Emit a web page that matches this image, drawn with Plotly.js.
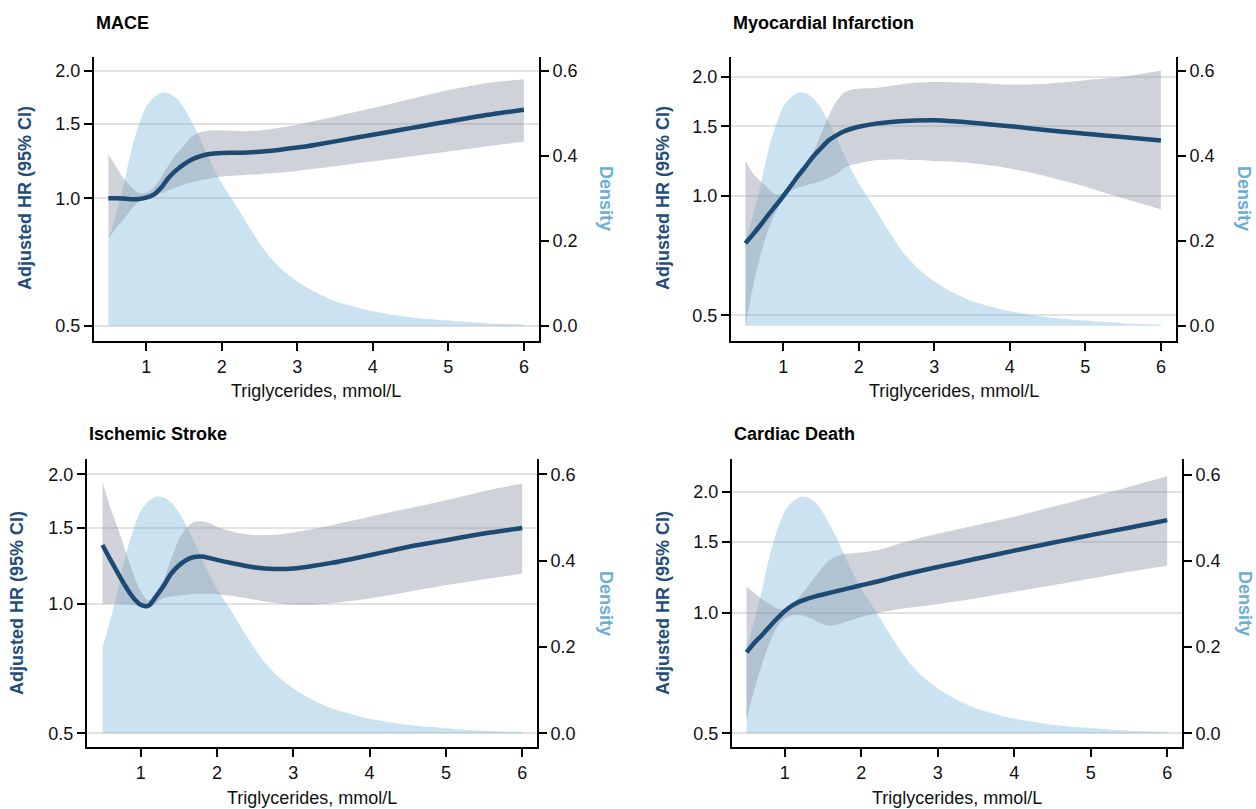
<!DOCTYPE html>
<html>
<head>
<meta charset="utf-8">
<script src="https://cdn.plot.ly/plotly-3.0.1.min.js"></script>
<style>html,body{margin:0;padding:0;background:#fff;}#chart{width:1256px;height:809px;}</style>
</head>
<body>
<div id="chart"></div>
<script>
// ---------------- DATA ----------------
const panelTitles = ["MACE", "Myocardial Infarction", "Ischemic Stroke", "Cardiac Death"];
const xTitle = "Triglycerides, mmol/L";
const hrTitle = "Adjusted HR (95% CI)";
const densTitle = "Density";
const hrTickVals = [0.5, 1.0, 1.5, 2.0];
const hrTickText = ["0.5", "1.0", "1.5", "2.0"];
const densTickVals = [0.0, 0.2, 0.4, 0.6];
const xTickVals = [1, 2, 3, 4, 5, 6];

// triglyceride grid for the spline estimates
const tg = [0.5,0.6,0.7,0.8,0.9,1.0,1.1,1.2,1.3,1.4,1.5,1.6,1.7,1.8,1.9,2.0,
            2.25,2.5,2.75,3.0,3.25,3.5,3.75,4.0,4.25,4.5,4.75,5.0,5.25,5.5,5.75,6.0];

const maceHR    = [1.0,1.0,0.998,0.995,0.996,1.003,1.02,1.06,1.12,1.165,1.202,1.233,1.254,1.268,1.276,1.279,
                   1.281,1.288,1.30,1.317,1.338,1.362,1.387,1.412,1.438,1.464,1.491,1.518,1.545,1.572,1.595,1.617];
const maceUpper = [1.27,1.19,1.115,1.065,1.03,1.03,1.06,1.12,1.20,1.27,1.33,1.395,1.43,1.442,1.447,1.447,
                   1.44,1.445,1.465,1.49,1.525,1.56,1.596,1.632,1.674,1.716,1.758,1.80,1.835,1.87,1.892,1.91];
const maceLower = [0.80,0.85,0.89,0.94,0.98,0.992,1.008,1.027,1.045,1.063,1.078,1.09,1.10,1.11,1.119,1.125,
                   1.133,1.14,1.148,1.16,1.175,1.19,1.206,1.222,1.238,1.255,1.272,1.29,1.307,1.325,1.343,1.362];

const miHR    = [0.76,0.80,0.845,0.895,0.945,1.0,1.06,1.125,1.19,1.26,1.32,1.38,1.42,1.455,1.478,1.495,
                 1.525,1.542,1.55,1.552,1.543,1.53,1.515,1.50,1.483,1.466,1.45,1.435,1.422,1.408,1.395,1.38];
const miUpper = [1.225,1.14,1.09,1.045,1.01,1.015,1.05,1.10,1.18,1.29,1.43,1.59,1.73,1.82,1.855,1.865,
                 1.875,1.905,1.93,1.94,1.937,1.93,1.92,1.91,1.912,1.92,1.938,1.96,1.98,2.0,2.035,2.07];
const miLower = [0.47,0.59,0.71,0.82,0.91,0.977,1.03,1.05,1.065,1.077,1.09,1.11,1.135,1.175,1.197,1.21,
                 1.232,1.237,1.232,1.225,1.22,1.21,1.194,1.174,1.148,1.119,1.088,1.056,1.021,0.987,0.956,0.926];

const strokeHR    = [1.37,1.27,1.18,1.10,1.035,0.995,0.99,1.04,1.10,1.175,1.228,1.265,1.285,1.288,1.278,1.265,
                     1.238,1.215,1.205,1.208,1.224,1.245,1.27,1.297,1.326,1.355,1.381,1.406,1.432,1.457,1.479,1.50];
const strokeUpper = [1.92,1.68,1.50,1.33,1.18,1.07,1.02,1.06,1.14,1.27,1.41,1.50,1.55,1.555,1.54,1.51,
                     1.465,1.445,1.447,1.465,1.492,1.523,1.557,1.593,1.63,1.666,1.703,1.741,1.784,1.828,1.866,1.904];
const strokeLower = [1.0,1.0,1.0,0.998,0.995,0.985,0.975,1.005,1.03,1.04,1.045,1.05,1.055,1.056,1.055,1.052,
                     1.04,1.022,1.005,0.996,0.995,1.003,1.015,1.029,1.047,1.066,1.085,1.105,1.123,1.141,1.158,1.176];

const cdHR    = [0.795,0.84,0.878,0.922,0.966,1.008,1.042,1.066,1.083,1.097,1.109,1.121,1.133,1.145,1.157,1.169,
                 1.2,1.235,1.267,1.298,1.329,1.361,1.393,1.426,1.459,1.492,1.525,1.559,1.593,1.627,1.662,1.699];
const cdUpper = [1.16,1.12,1.08,1.05,1.025,1.02,1.05,1.10,1.16,1.23,1.30,1.355,1.385,1.40,1.405,1.41,
                 1.435,1.486,1.53,1.573,1.611,1.65,1.69,1.731,1.782,1.834,1.886,1.94,1.997,2.056,2.12,2.19];
const cdLower = [0.54,0.64,0.74,0.84,0.92,0.966,0.985,0.985,0.975,0.955,0.935,0.928,0.935,0.948,0.962,0.975,
                 1.0,1.02,1.035,1.049,1.066,1.084,1.105,1.126,1.148,1.17,1.192,1.215,1.239,1.263,1.285,1.307];

// triglyceride distribution (kernel density)
const densX = [0.5,0.6,0.7,0.8,0.9,1.0,1.1,1.2,1.3,1.4,1.5,1.6,1.7,1.8,1.9,2.0,2.2,2.4,2.6,2.8,3.0,3.25,3.5,3.75,4.0,4.5,5.0,5.5,6.0];
const densY = [0.20,0.26,0.33,0.41,0.47,0.515,0.537,0.548,0.547,0.535,0.512,0.48,0.445,0.405,0.368,0.335,0.28,0.222,0.17,0.132,0.104,0.078,0.058,0.045,0.034,0.02,0.012,0.006,0.003];

// ---------------- LAYOUT HELPERS ----------------
const W = 1256, H = 809;
const fx = p => p / W;
const fy = p => 1 - p / H;

const panels = [
  {hr: maceHR, up: maceUpper, lo: maceLower, box: [94, 539, 57, 341],  xr: [0.31, 6.2],  hrR: [-0.337, 0.3334], dR: [-0.036, 0.632],
   title: [94, 23], lt: [25, 198], rt: [606, 198], xt: [316, 391]},
  {hr: miHR, up: miUpper, lo: miLower, box: [731, 1176, 57, 341], xr: [0.309, 6.2], hrR: [-0.3658, 0.3507], dR: [-0.036, 0.632],
   title: [731, 23], lt: [663, 198], rt: [1244, 198], xt: [954, 391]},
  {hr: strokeHR, up: strokeUpper, lo: strokeLower, box: [87, 537, 459, 747.3], xr: [0.297, 6.194], hrR: [-0.3335, 0.3367], dR: [-0.0324, 0.6354],
   title: [87, 434], lt: [17, 603], rt: [606, 603], xt: [312, 798]},
  {hr: cdHR, up: cdUpper, lo: cdLower, box: [732, 1182, 459, 747.3], xr: [0.31, 6.193], hrR: [-0.3359, 0.3825], dR: [-0.0325, 0.636],
   title: [732, 434], lt: [663, 603], rt: [1245, 603], xt: [957, 798]}
];

const FONT = "Liberation Sans, Arial, Helvetica, sans-serif";
const lineColor = "#1c4a72";
const bandColor = "rgba(140,150,165,0.42)";
const densColor = "rgba(107,174,214,0.35)";
const densTitleColor = "#6aaed6";
const hrTitleColor = "#1f4e79";

const layout = {
  width: W, height: H,
  margin: {l: 0, r: 0, t: 0, b: 0},
  paper_bgcolor: "#ffffff",
  plot_bgcolor: "rgba(0,0,0,0)",
  showlegend: false,
  font: {family: FONT, size: 18, color: "#111111"},
  annotations: []
};
const traces = [];

panels.forEach((p, i) => {
  const n = i + 1;
  const xa = "xaxis" + (n === 1 ? "" : n);
  const xs = "x" + (n === 1 ? "" : n);
  const dId = 2 * i + 1, hId = 2 * i + 2;
  const dA = "yaxis" + (dId === 1 ? "" : dId), dS = "y" + (dId === 1 ? "" : dId);
  const hA = "yaxis" + hId, hS = "y" + hId;
  const [x0, x1, y0, y1] = p.box;

  const common = {showline: true, linecolor: "#000", linewidth: 2, ticks: "outside", ticklen: 8, tickwidth: 2,
                  tickcolor: "#000", zeroline: false, fixedrange: true, tickfont: {family: FONT, size: 18, color: "#111"}};

  layout[xa] = Object.assign({}, common, {domain: [fx(x0), fx(x1)], anchor: dS, range: p.xr,
                tickvals: xTickVals, showgrid: false});
  layout[dA] = Object.assign({}, common, {domain: [fy(y1), fy(y0)], anchor: xs, side: "right", range: p.dR,
                tickvals: densTickVals, tickformat: ".1f", showgrid: false});
  layout[hA] = Object.assign({}, common, {overlaying: dS, anchor: xs, side: "left", type: "log", range: p.hrR,
                tickvals: hrTickVals, ticktext: hrTickText, showgrid: true, gridcolor: "#e2e2e2", gridwidth: 2});

  traces.push({x: densX, y: densY, xaxis: xs, yaxis: dS, type: "scatter", mode: "lines",
               line: {width: 0, shape: "spline", smoothing: 0.8}, fill: "tozeroy", fillcolor: densColor, hoverinfo: "skip"});
  traces.push({x: tg, y: p.lo, xaxis: xs, yaxis: hS, type: "scatter", mode: "lines",
               line: {width: 0, shape: "spline", smoothing: 0.8}, hoverinfo: "skip"});
  traces.push({x: tg, y: p.up, xaxis: xs, yaxis: hS, type: "scatter", mode: "lines",
               line: {width: 0, shape: "spline", smoothing: 0.8}, fill: "tonexty", fillcolor: bandColor, hoverinfo: "skip"});
  traces.push({x: tg, y: p.hr, xaxis: xs, yaxis: hS, type: "scatter", mode: "lines",
               line: {width: 4.5, color: lineColor, shape: "spline", smoothing: 1}, hoverinfo: "skip"});

  layout.annotations.push(
    {xref: "paper", yref: "paper", x: fx(p.title[0]), y: fy(p.title[1]), xanchor: "left", yanchor: "middle",
     text: "<b>" + panelTitles[i] + "</b>", showarrow: false, font: {family: FONT, size: 18, color: "#000"}},
    {xref: "paper", yref: "paper", x: fx(p.lt[0]), y: fy(p.lt[1]), xanchor: "center", yanchor: "middle", textangle: -90,
     text: "<b>" + hrTitle + "</b>", showarrow: false, font: {family: FONT, size: 18, color: hrTitleColor}},
    {xref: "paper", yref: "paper", x: fx(p.rt[0]), y: fy(p.rt[1]), xanchor: "center", yanchor: "middle", textangle: 90,
     text: "<b>" + densTitle + "</b>", showarrow: false, font: {family: FONT, size: 18, color: densTitleColor}},
    {xref: "paper", yref: "paper", x: fx(p.xt[0]), y: fy(p.xt[1]), xanchor: "center", yanchor: "middle",
     text: xTitle, showarrow: false, font: {family: FONT, size: 18, color: "#111"}}
  );
});

Plotly.newPlot("chart", traces, layout, {staticPlot: true, displayModeBar: false});
</script>
</body>
</html>
